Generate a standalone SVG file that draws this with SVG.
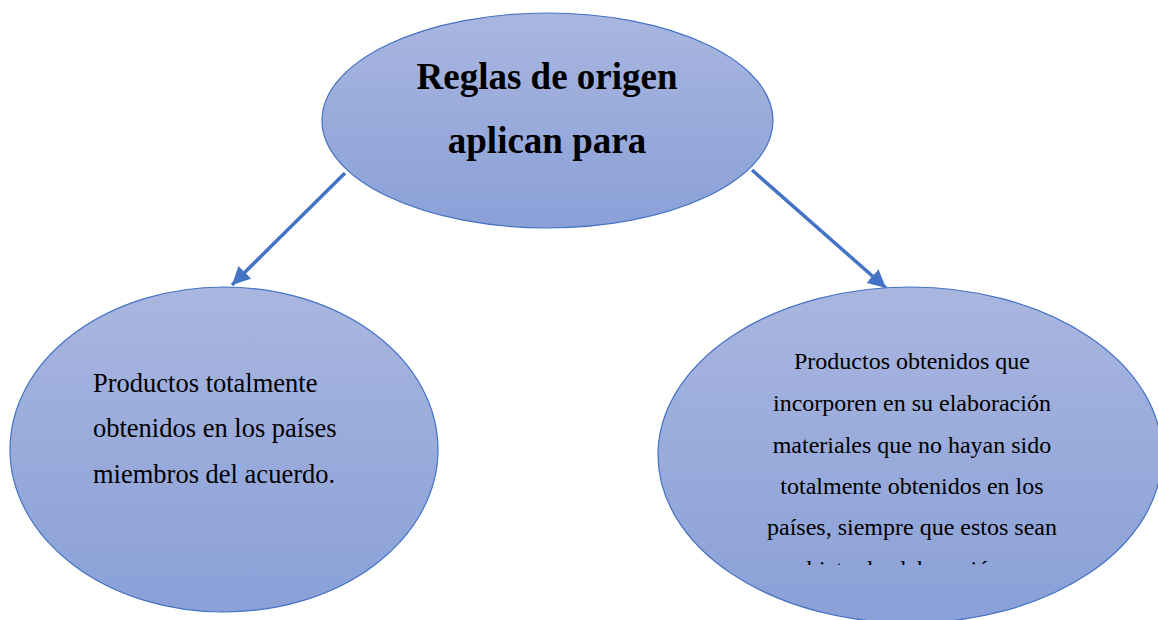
<svg xmlns="http://www.w3.org/2000/svg" width="1158" height="620" viewBox="0 0 1158 620">
  <defs>
    <linearGradient id="fill" x1="0" y1="0" x2="0" y2="1">
      <stop offset="0" stop-color="#a9b6df"/>
      <stop offset="1" stop-color="#8aa0d7"/>
    </linearGradient>
    <marker id="arrow" markerUnits="userSpaceOnUse" markerWidth="20" markerHeight="18" refX="18" refY="9" orient="auto">
      <path d="M0,0 L18,9 L0,18 Z" fill="#4472c4"/>
    </marker>
    <clipPath id="clipLast">
      <rect x="660" y="540" width="500" height="25"/>
    </clipPath>
  </defs>
  <style>
    .node { fill: url(#fill); stroke: #4472c4; stroke-width: 1.2; }
    .conn { stroke: #4472c4; stroke-width: 3.5; fill: none; }
    .title { font-family: "Liberation Serif", serif; font-weight: bold; font-size: 37px; fill: #000; text-anchor: middle; }
    .lt { font-family: "Liberation Serif", serif; font-size: 26.5px; fill: #000; }
    .rt { font-family: "Liberation Serif", serif; font-size: 24px; fill: #000; text-anchor: middle; }
  </style>
  <rect width="1158" height="620" fill="#ffffff"/>
  <g id="connectors">
    <line class="conn" x1="345" y1="173" x2="232" y2="285" marker-end="url(#arrow)"/>
    <line class="conn" x1="752" y1="170" x2="886" y2="288" marker-end="url(#arrow)"/>
  </g>
  <g id="node-top">
    <ellipse class="node" cx="547.5" cy="120.5" rx="225.5" ry="107.5"/>
    <text class="title" x="547" y="89">Reglas de origen</text>
    <text class="title" x="547" y="153">aplican para</text>
  </g>
  <g id="node-left">
    <ellipse class="node" cx="224" cy="449.5" rx="214" ry="162.5"/>
    <text class="lt" x="93" y="392">Productos totalmente</text>
    <text class="lt" x="93" y="437">obtenidos en los países</text>
    <text class="lt" x="93" y="483">miembros del acuerdo.</text>
  </g>
  <g id="node-right">
    <ellipse class="node" cx="910" cy="455" rx="252" ry="168"/>
    <text class="rt" x="912" y="369">Productos obtenidos que</text>
    <text class="rt" x="912" y="411">incorporen en su elaboración</text>
    <text class="rt" x="912" y="453">materiales que no hayan sido</text>
    <text class="rt" x="912" y="494">totalmente obtenidos en los</text>
    <text class="rt" x="912" y="535">países, siempre que estos sean</text>
    <text class="rt" x="898" y="577" clip-path="url(#clipLast)">objeto de elaboración</text>
  </g>
</svg>
